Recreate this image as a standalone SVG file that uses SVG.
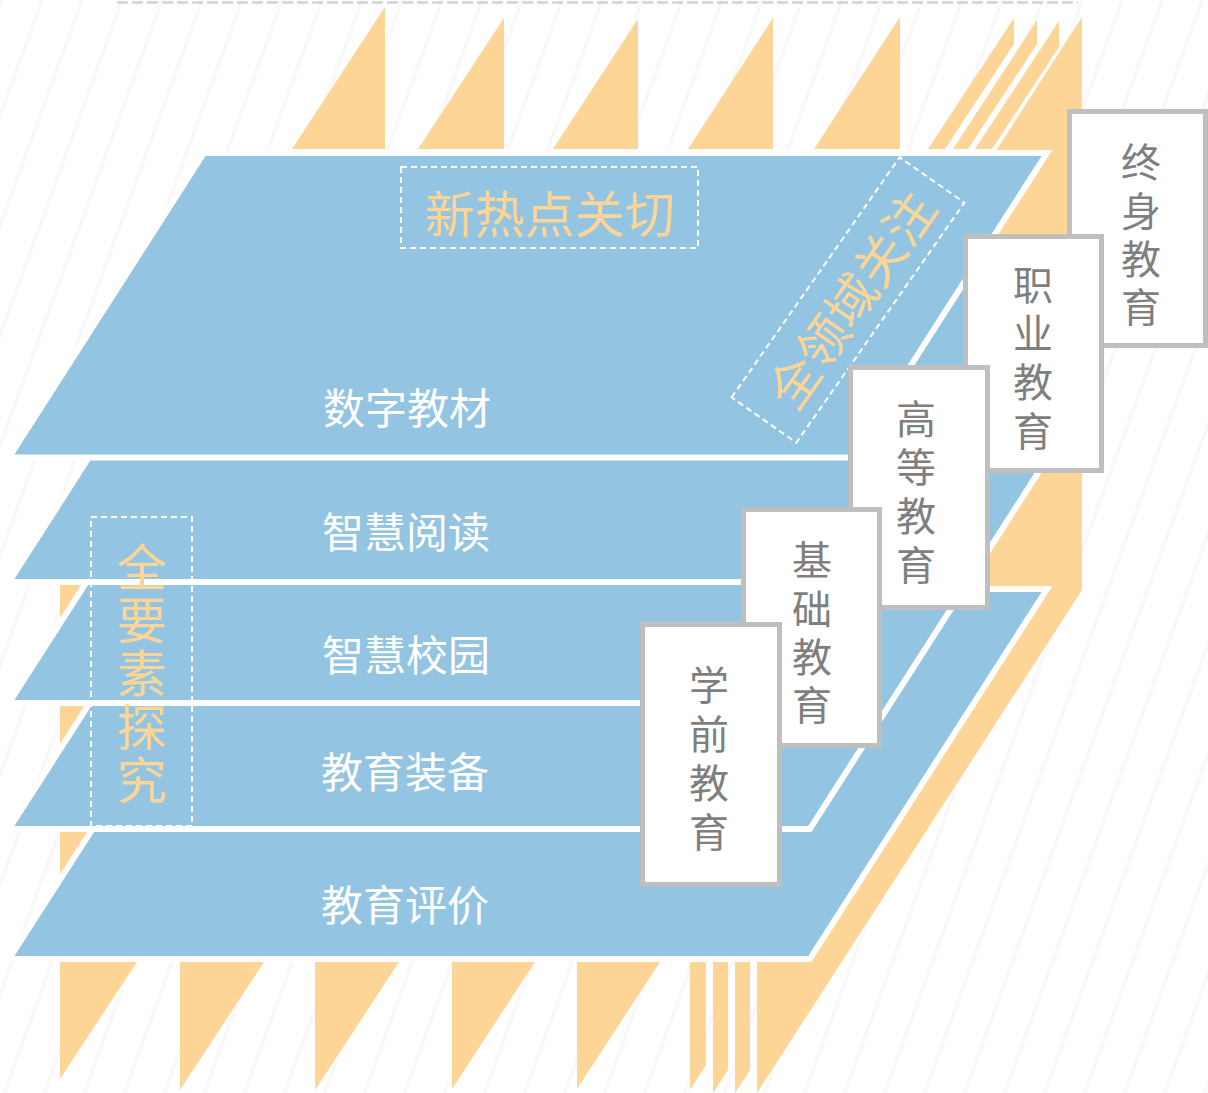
<svg xmlns="http://www.w3.org/2000/svg" width="1208" height="1093" viewBox="0 0 1208 1093">
<defs>
<pattern id="hatch" patternUnits="userSpaceOnUse" width="37.6" height="300" patternTransform="rotate(20)">
<line x1="1" y1="0" x2="1" y2="300" stroke="#f0f0f0" stroke-width="0.8"/>
<line x1="2.8" y1="0" x2="2.8" y2="300" stroke="#f0f0f0" stroke-width="0.8"/>
</pattern>
<style>
.or{fill:#FDD597}
.layer{fill:#93C4E2;stroke:#fff;stroke-width:6;stroke-linejoin:miter}
.lt{font-family:"Noto Sans CJK SC","Noto Sans",sans-serif;font-size:42px;fill:#fff;text-anchor:middle;dominant-baseline:central}
.ot{font-family:"Noto Sans CJK SC","Noto Sans",sans-serif;font-size:50px;fill:#FDD597;text-anchor:middle;dominant-baseline:central}
.dash{fill:none;stroke:#fff;stroke-width:2;stroke-dasharray:6 4}
.box{fill:#fff;stroke:#BFBFBF;stroke-width:5}
.bt{font-family:"Noto Sans CJK SC","Noto Sans",sans-serif;font-size:40px;fill:#7F7F7F;text-anchor:middle;dominant-baseline:central}
</style>
</defs>
<rect width="1208" height="1093" fill="#fff"/>
<rect width="1208" height="1093" fill="url(#hatch)"/>
<line x1="117" y1="2.5" x2="1078" y2="2.5" stroke="#d9d9d9" stroke-width="3" stroke-dasharray="11 4"/>

<g id="orange-decor">
<polygon class="or" points="292,149 385,7 385,149"/>
<polygon class="or" points="418,149 504,18 504,149"/>
<polygon class="or" points="553,149 638,19 638,149"/>
<polygon class="or" points="688,149 773,18 773,149"/>
<polygon class="or" points="814,149 900,17 900,149"/>
<polygon class="or" points="928,149 1014,18 1014,44 945,149"/>
<polygon class="or" points="953,149 1037,20 1037,44 968,149"/>
<polygon class="or" points="975,149 1059,21 1059,47 992,149"/>
<polygon class="or" points="997,149 1082,17 1082,590 757,1093 757,962 790,962 790,930 700,300 990,160"/>
<polygon class="or" points="60,962 137,962 60,1079"/>
<polygon class="or" points="180,962 264,962 180,1090"/>
<polygon class="or" points="315,962 399,962 315,1090"/>
<polygon class="or" points="452,962 535,962 452,1089"/>
<polygon class="or" points="577,962 660,962 577,1089"/>
<polygon class="or" points="690,962 706,962 706,1065 690,1090"/>
<polygon class="or" points="713,962 728,962 728,1070 713,1093"/>
<polygon class="or" points="735,962 750,962 750,1070 735,1093"/>
<polygon class="or" points="60,585 137,585 60,703"/>
<polygon class="or" points="60,706 137,706 60,824"/>
<polygon class="or" points="60,832 137,832 60,950"/>
</g>

<g id="layer-pingjia">
<polygon class="layer" points="246.8,589 1047,589 809.8,959 9,959"/>
<text class="lt" x="405" y="902">教育评价</text>
</g>
<g id="layer-zhuangbei">
<polygon class="layer" points="246.2,459 1047,459 809.8,829 9,829"/>
<text class="lt" x="405" y="769">教育装备</text>
</g>
<g id="layer-xiaoyuan">
<polygon class="layer" points="244.9,335 1047,335 811.1,703 9,703"/>
<text class="lt" x="406" y="652">智慧校园</text>
</g>
<g id="layer-yuedu">
<polygon class="layer" points="228.2,240 1047,240 827.8,582 9,582"/>
<text class="lt" x="406" y="529">智慧阅读</text>
</g>
<g id="layer-jiaocai">
<polygon class="layer" points="204,153 1047,153 851.8,457.5 9,457.5"/>
<text class="lt" x="407" y="405">数字教材</text>
</g>

<g id="label-xinredian">
<rect class="dash" x="401" y="167" width="297" height="81"/>
<text class="ot" x="550" y="211">新热点关切</text>
</g>
<g id="label-quanyaosu">
<rect class="dash" x="91" y="517" width="101" height="309"/>
<text class="ot" x="142" y="564">全</text>
<text class="ot" x="142" y="617">要</text>
<text class="ot" x="142" y="670">素</text>
<text class="ot" x="142" y="724">探</text>
<text class="ot" x="142" y="777">究</text>
</g>
<g id="label-quanlingyu" transform="translate(848,300) rotate(-55)">
<rect class="dash" x="-146.5" y="-39.5" width="293" height="79"/>
<text class="ot" x="2" y="0">全领域关注</text>
</g>

<g id="box-zhongshen">
<rect class="box" x="1069.5" y="111.5" width="136" height="234"/>
<text class="bt" x="1141" y="160">终</text>
<text class="bt" x="1141" y="209">身</text>
<text class="bt" x="1141" y="257">教</text>
<text class="bt" x="1141" y="305">育</text>
</g>
<g id="box-zhiye">
<rect class="box" x="965.5" y="236.5" width="136" height="234"/>
<text class="bt" x="1033" y="283">职</text>
<text class="bt" x="1033" y="331">业</text>
<text class="bt" x="1033" y="380">教</text>
<text class="bt" x="1033" y="429">育</text>
</g>
<g id="box-gaodeng">
<rect class="box" x="850.5" y="367.5" width="137" height="240"/>
<text class="bt" x="916" y="417">高</text>
<text class="bt" x="916" y="465">等</text>
<text class="bt" x="916" y="514">教</text>
<text class="bt" x="916" y="563">育</text>
</g>
<g id="box-jichu">
<rect class="box" x="743.5" y="509.5" width="136" height="236"/>
<text class="bt" x="812" y="558">基</text>
<text class="bt" x="812" y="607">础</text>
<text class="bt" x="812" y="655">教</text>
<text class="bt" x="812" y="703">育</text>
</g>
<g id="box-xueqian">
<rect class="box" x="642.5" y="624.5" width="137" height="260"/>
<text class="bt" x="709" y="683">学</text>
<text class="bt" x="709" y="732">前</text>
<text class="bt" x="709" y="781">教</text>
<text class="bt" x="709" y="830">育</text>
</g>
<g id="connectors"/>
</svg>
